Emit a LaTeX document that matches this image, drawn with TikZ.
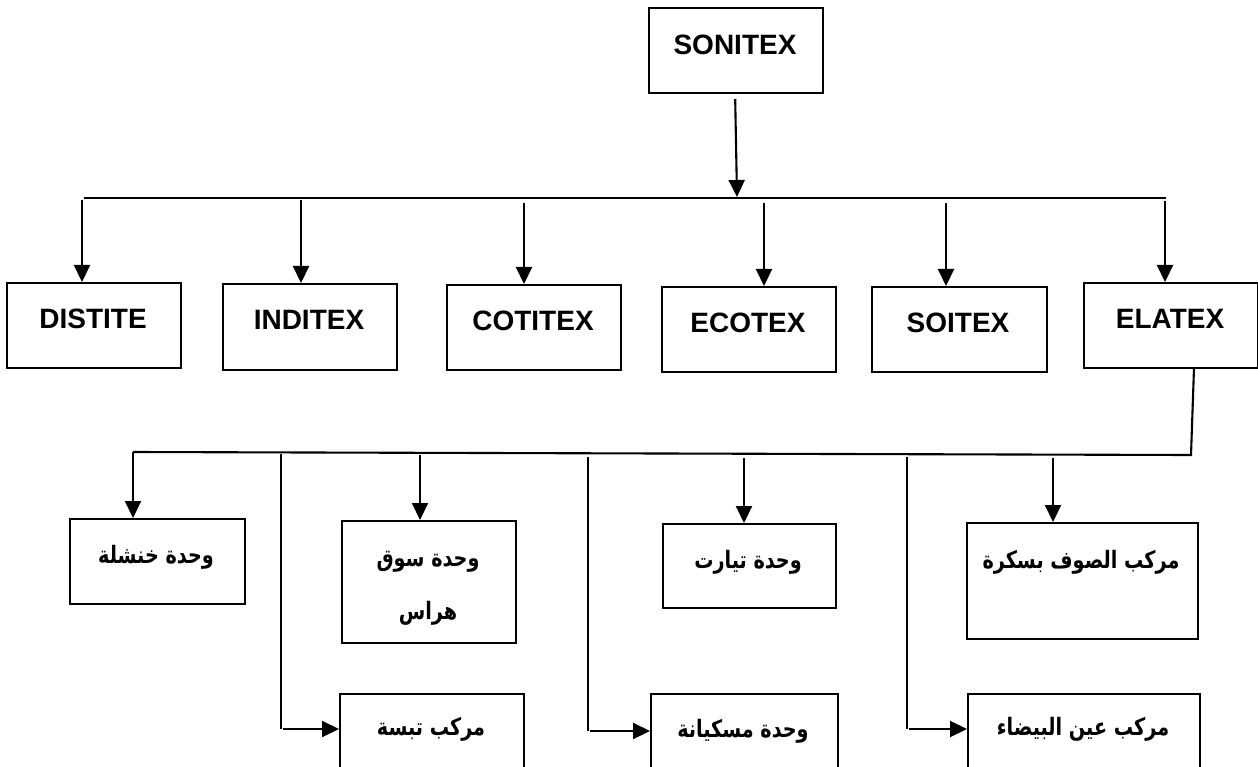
\documentclass[tikz,border=0pt]{standalone}
\usepackage{fontspec}
\setmainfont{Liberation Sans}
\newfontfamily\arabicfont[Script=Arabic,FakeStretch=0.8]{DejaVu Sans}
\TeXXeTstate=1
\usetikzlibrary{arrows.meta}
\tikzset{
  box/.style={draw, line width=2.2pt, inner sep=0pt, anchor=north west},
  lat/.style={font=\fontsize{28}{32}\selectfont\bfseries, inner sep=0pt},
  ara/.style={font=\fontsize{24}{28}\selectfont\arabicfont\bfseries, inner sep=0pt},
  ln/.style={line width=2.1pt},
  thin/.style={line width=1.6pt},
  arr/.style={line width=2.1pt, -{Triangle[width=16pt,length=17pt]}},
}
\begin{document}
\begin{tikzpicture}[x=1pt,y=-1pt]
\useasboundingbox (0,0) rectangle (1258,767);
% boxes
\node[box, minimum width=174pt, minimum height=85pt] (sonitex) at (648,7) {};
\node[box, minimum width=174pt, minimum height=85pt] (distite) at (6,282) {};
\node[box, minimum width=174pt, minimum height=86pt] (inditex) at (222,283) {};
\node[box, minimum width=174pt, minimum height=85pt] (cotitex) at (446,284) {};
\node[box, minimum width=174pt, minimum height=85pt] (ecotex) at (661,286) {};
\node[box, minimum width=175pt, minimum height=85pt] (soitex) at (871,286) {};
\node[box, minimum width=174pt, minimum height=85pt] (elatex) at (1083,282) {};
\node[box, minimum width=175pt, minimum height=85pt] (khenchela) at (69,518) {};
\node[box, minimum width=174pt, minimum height=122pt] (soukahras) at (341,520) {};
\node[box, minimum width=173pt, minimum height=84pt] (tiaret) at (662,523) {};
\node[box, minimum width=231pt, minimum height=116pt] (biskra) at (966,522) {};
\node[box, minimum width=184pt, minimum height=100pt] (tebessa) at (339,693) {};
\node[box, minimum width=187pt, minimum height=100pt] (meskiana) at (650,693) {};
\node[box, minimum width=232pt, minimum height=100pt] (ainbeida) at (967,693) {};
% labels
\node[lat] (l-sonitex) at (735,45) {SONITEX};
\node[lat] (l-distite) at (93,319) {DISTITE};
\node[lat] (l-inditex) at (309,320) {INDITEX};
\node[lat] (l-cotitex) at (533,321) {COTITEX};
\node[lat] (l-ecotex) at (748,323) {ECOTEX};
\node[lat] (l-soitex) at (958,323) {SOITEX};
\node[lat] (l-elatex) at (1170,319) {ELATEX};
\node[ara] (l-khenchela) at (156,557) {\beginR وحدة خنشلة\endR};
\node[ara] (l-soukahras1) at (428,562) {\beginR وحدة سوق\endR};
\node[ara] (l-soukahras2) at (428,613) {\beginR هراس\endR};
\node[ara] (l-tiaret) at (748,562) {\beginR وحدة تيارت\endR};
\node[ara] (l-biskra) at (1081,562) {\beginR مركب الصوف بسكرة\endR};
\node[ara] (l-tebessa) at (431,729) {\beginR مركب تبسة\endR};
\node[ara] (l-meskiana) at (743,731) {\beginR وحدة مسكيانة\endR};
\node[ara] (l-ainbeida) at (1083,729) {\beginR مركب عين البيضاء\endR};
% coordinates
\coordinate (barTop) at (737,197);
\coordinate (barL) at (84,198);
\coordinate (barR) at (1166,198);
\coordinate (cD) at (82,200);
\coordinate (cI) at (301,200);
\coordinate (cC) at (524,203);
\coordinate (cE) at (764,203);
\coordinate (cS) at (946,203);
\coordinate (cL) at (1165,201);
\coordinate (eTop) at (1194,368);
\coordinate (eBot) at (1191,455);
\coordinate (bar2L) at (133,452);
\coordinate (vT) at (281,454);
\coordinate (tT) at (281,729);
\coordinate (hT) at (283,729);
\coordinate (cH) at (420,455);
\coordinate (vM) at (588,457);
\coordinate (tM) at (588,731);
\coordinate (hM) at (590,731);
\coordinate (cT) at (744,458);
\coordinate (vA) at (907,457);
\coordinate (tA) at (907,729);
\coordinate (hA) at (909,729);
\coordinate (cB) at (1053,458);
% connectors level 1
\draw[arr, shorten <=5pt] ([xshift=-1pt]sonitex.south) -- (barTop);
\draw[ln] (barL) -- (barR);
\draw[arr] (cD) -- (cD |- distite.north);
\draw[arr] (cI) -- (cI |- inditex.north);
\draw[arr] (cC) -- (cC |- cotitex.north);
\draw[arr] (cE) -- (cE |- ecotex.north);
\draw[arr] (cS) -- (cS |- soitex.north);
\draw[arr] (cL) -- (cL |- elatex.north);
% connectors level 2
\draw[ln] (eTop) -- (eBot) -- (bar2L);
\draw[arr] (bar2L) -- (bar2L |- khenchela.north);
\draw[arr] (cH) -- (cH |- soukahras.north);
\draw[arr] (cT) -- (cT |- tiaret.north);
\draw[arr] (cB) -- (cB |- biskra.north);
\draw[thin] (vT) -- (tT);
\draw[arr] (hT) -- (hT -| tebessa.west);
\draw[thin] (vM) -- (tM);
\draw[arr] (hM) -- (hM -| meskiana.west);
\draw[thin] (vA) -- (tA);
\draw[arr] (hA) -- (hA -| ainbeida.west);
\end{tikzpicture}
\end{document}
